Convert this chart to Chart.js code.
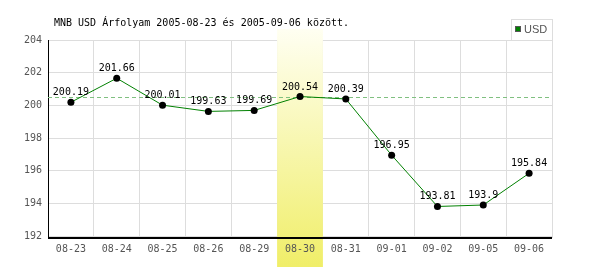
<!DOCTYPE html>
<html>
<head>
<meta charset="utf-8">
<script src="https://cdn.jsdelivr.net/npm/chart.js@4/dist/chart.umd.min.js"></script>
<style>
  html, body { margin: 0; padding: 0; background: #fff; }
  #wrap { width: 600px; height: 270px; }
</style>
</head>
<body>
<div id="wrap"><canvas id="chart" width="600" height="270"></canvas></div>
<script>
// Datos del gráfico
const labels = ['08-23', '08-24', '08-25', '08-26', '08-29', '08-30', '08-31', '09-01', '09-02', '09-05', '09-06'];
const usd = [200.19, 201.66, 200.01, 199.63, 199.69, 200.54, 200.39, 196.95, 193.81, 193.9, 195.84];
const yTicks = [192, 194, 196, 198, 200, 202, 204];
const highlightIndex = 5;   // 08-30
const refValue = 200.54;    // línea punteada
const titleText = 'MNB USD Árfolyam 2005-08-23 és 2005-09-06 között.';
const seriesName = 'USD';

const MONO = '"DejaVu Sans Mono", monospace';

// Plugin: banda resaltada, línea de referencia, etiquetas, título y leyenda
const decorPlugin = {
    id: 'decor',
    beforeDatasetsDraw(chart) {
        const ctx = chart.ctx;
        const x = chart.scales.x, y = chart.scales.y;
        const area = chart.chartArea;
        const half = (x.getPixelForValue(1) - x.getPixelForValue(0)) / 2;
        const cx = x.getPixelForValue(highlightIndex);
        const top = area.top - 11;
        const bottom = chart.height - 3;

        ctx.save();
        const grad = ctx.createLinearGradient(0, top, 0, bottom);
        grad.addColorStop(0, '#fffff2');
        grad.addColorStop(1, '#f0ee68');
        ctx.fillStyle = grad;
        ctx.fillRect(cx - half, top, half * 2, bottom - top);

        // eje x (negro) encima de la banda
        ctx.strokeStyle = '#000';
        ctx.lineWidth = 2;
        ctx.beginPath();
        ctx.moveTo(area.left, area.bottom);
        ctx.lineTo(area.right, area.bottom);
        ctx.stroke();
        ctx.restore();

        // volver a dibujar la etiqueta tapada por la banda
        ctx.save();
        ctx.beginPath();
        ctx.rect(cx - half, area.bottom + 1, half * 2, chart.height);
        ctx.clip();
        x.drawLabels(area);
        ctx.restore();

        // línea de referencia punteada
        const ry = Math.round(y.getPixelForValue(refValue)) + 0.5;
        ctx.save();
        ctx.strokeStyle = '#80c080';
        ctx.lineWidth = 1;
        ctx.setLineDash([4, 3]);
        ctx.beginPath();
        ctx.moveTo(area.left, ry);
        ctx.lineTo(area.right, ry);
        ctx.stroke();
        ctx.restore();
    },
    afterDatasetsDraw(chart) {
        const ctx = chart.ctx;
        const meta = chart.getDatasetMeta(0);
        ctx.save();
        ctx.font = '10px ' + MONO;
        ctx.fillStyle = '#000';
        ctx.textAlign = 'center';
        ctx.textBaseline = 'alphabetic';
        meta.data.forEach((pt, i) => {
            ctx.fillText(String(usd[i]), pt.x, pt.y - 7);
        });
        ctx.restore();
    },
    afterDraw(chart) {
        const ctx = chart.ctx;
        const area = chart.chartArea;
        ctx.save();
        // título
        ctx.font = '10px ' + MONO;
        ctx.fillStyle = '#000';
        ctx.textAlign = 'left';
        ctx.textBaseline = 'middle';
        ctx.fillText(titleText, area.left + 6, 23);

        // leyenda
        const bx = area.right - 41, by = area.top - 21;
        ctx.strokeStyle = '#dddddd';
        ctx.lineWidth = 1;
        ctx.strokeRect(bx + 0.5, by + 0.5, 41, 21);
        ctx.fillStyle = '#008000';
        ctx.fillRect(bx + 4, by + 7, 6, 6);
        ctx.strokeStyle = '#555';
        ctx.strokeRect(bx + 4.5, by + 7.5, 5, 5);
        ctx.font = '11px "Liberation Sans Narrow", "Liberation Sans", sans-serif';
        ctx.fillStyle = '#555';
        ctx.textBaseline = 'middle';
        ctx.fillText(seriesName, bx + 13, by + 11);
        ctx.restore();
    }
};

const ctx = document.getElementById('chart').getContext('2d');
const chart = new Chart(ctx, {
    type: 'line',
    data: {
        labels: labels,
        datasets: [{
            label: seriesName,
            data: usd,
            borderColor: '#008000',
            borderWidth: 1,
            tension: 0,
            pointRadius: 3.5,
            pointBorderWidth: 0,
            pointBackgroundColor: '#000',
            pointBorderColor: '#000',
            fill: false
        }]
    },
    options: {
        responsive: false,
        animation: false,
        layout: { padding: { top: 40, right: 48, left: 0, bottom: 0 } },
        plugins: {
            legend: { display: false },
            title: { display: false },
            tooltip: { enabled: false }
        },
        scales: {
            x: {
                offset: true,
                grid: { offset: true, color: '#dddddd', lineWidth: 1, drawTicks: false },
                border: { display: false },
                ticks: {
                    color: '#555',
                    font: { family: MONO, size: 10 },
                    padding: 5,
                    maxRotation: 0,
                    autoSkip: false
                },
                afterFit(scale) { scale.height = 32; }
            },
            y: {
                min: 191.88,
                max: 204,
                grid: { color: '#dddddd', lineWidth: 1, drawTicks: false },
                border: { color: '#000', width: 1 },
                ticks: {
                    color: '#555',
                    font: { family: MONO, size: 10 },
                    padding: 6
                },
                afterBuildTicks(scale) { scale.ticks = yTicks.map(v => ({ value: v })); },
                afterFit(scale) { scale.width = 48; }
            }
        }
    },
    plugins: [decorPlugin]
});
</script>
</body>
</html>
